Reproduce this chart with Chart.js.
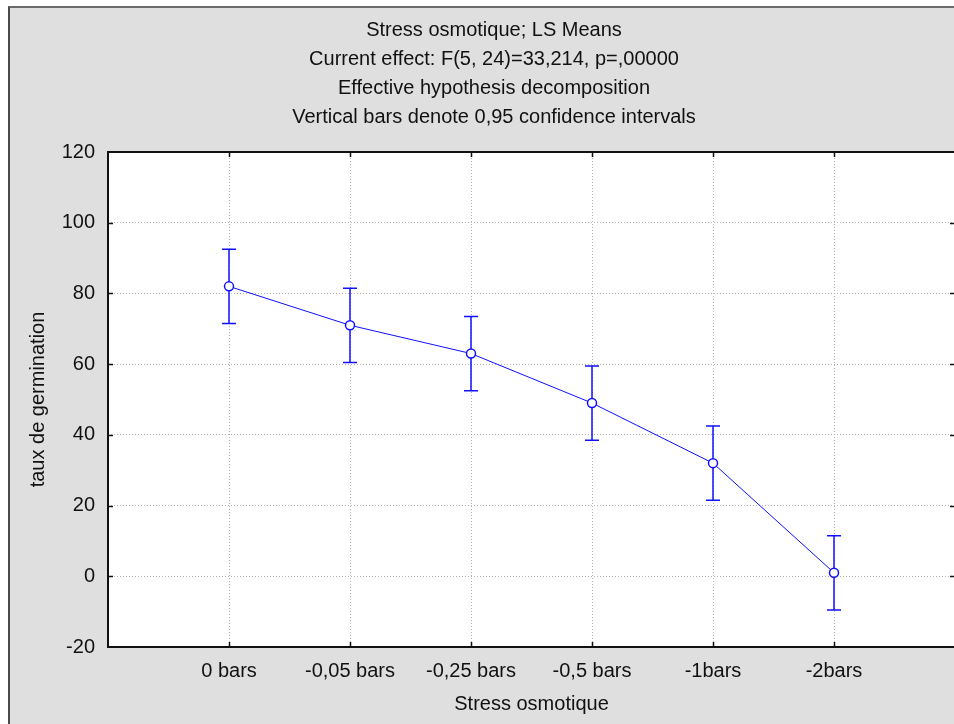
<!DOCTYPE html>
<html>
<head>
<meta charset="utf-8">
<script src="https://cdn.jsdelivr.net/npm/chart.js@4"></script>
<style>
  html, body { margin: 0; padding: 0; background: #ffffff; overflow: hidden; width: 954px; height: 724px; }
  #panel { position: absolute; left: 8px; top: 6px; width: 1200px; height: 1000px; background: #dfdfdf;
           border-left: 2px solid #4a4a4a; border-top: 2px solid #6a6a6a; }
  #c { position: absolute; left: 0; top: 0; }
</style>
</head>
<body>
<div id="panel"></div>
<canvas id="c" width="988" height="724" style="width:988px;height:724px"></canvas>
<script>
const titleLines = [
  'Stress osmotique; LS Means',
  'Current effect: F(5, 24)=33,214, p=,00000',
  'Effective hypothesis decomposition',
  'Vertical bars denote 0,95 confidence intervals'
];
const categories = ['0 bars', '-0,05 bars', '-0,25 bars', '-0,5 bars', '-1bars', '-2bars'];
const means   = [82, 71, 63, 49, 32, 1];
const ciUpper = [92.5, 81.5, 73.5, 59.5, 42.5, 11.5];
const ciLower = [71.5, 60.5, 52.5, 38.5, 21.5, -9.5];
const yTickValues = [-20, 0, 20, 40, 60, 80, 100, 120];
const xTitle = 'Stress osmotique';
const yTitle = 'taux de germination';

const FONT = '"Liberation Sans", Arial, sans-serif';
const BLUE = '#1010ff';

const plotBg = {
  id: 'plotBg',
  beforeDraw(chart) {
    const ctx = chart.ctx, a = chart.chartArea;
    ctx.save();
    ctx.fillStyle = '#ffffff';
    ctx.fillRect(a.left, a.top, a.right - a.left, a.bottom - a.top);
    ctx.restore();
  }
};

const errorBars = {
  id: 'errorBars',
  beforeDatasetsDraw(chart) {
    const ctx = chart.ctx, xs = chart.scales.x, ys = chart.scales.y;
    ctx.save();
    ctx.strokeStyle = BLUE;
    ctx.lineWidth = 1.5;
    for (let i = 0; i < means.length; i++) {
      const x = xs.getPixelForValue(i);
      const yt = ys.getPixelForValue(ciUpper[i]);
      const yb = ys.getPixelForValue(ciLower[i]);
      ctx.beginPath();
      ctx.moveTo(x, yt); ctx.lineTo(x, yb);
      ctx.moveTo(x - 7, yt); ctx.lineTo(x + 7, yt);
      ctx.moveTo(x - 7, yb); ctx.lineTo(x + 7, yb);
      ctx.stroke();
    }
    ctx.restore();
  }
};

const frame = {
  id: 'frame',
  afterDraw(chart) {
    const ctx = chart.ctx, a = chart.chartArea, xs = chart.scales.x, ys = chart.scales.y;
    ctx.save();
    ctx.strokeStyle = '#111';
    ctx.lineWidth = 2;
    ctx.strokeRect(a.left, a.top, a.right - a.left, a.bottom - a.top);
    ctx.lineWidth = 1.5;
    ctx.beginPath();
    for (let i = 0; i < categories.length; i++) {
      const x = Math.round(xs.getPixelForValue(i)) + 0.5;
      ctx.moveTo(x, a.top); ctx.lineTo(x, a.top + 5);
      ctx.moveTo(x, a.bottom); ctx.lineTo(x, a.bottom - 5);
    }
    yTickValues.forEach(v => {
      if (v === yTickValues[0] || v === yTickValues[yTickValues.length - 1]) return;
      const y = Math.round(ys.getPixelForValue(v)) + 0.5;
      ctx.moveTo(a.left, y); ctx.lineTo(a.left + 5, y);
      ctx.moveTo(a.right, y); ctx.lineTo(a.right - 5, y);
    });
    ctx.stroke();
    ctx.restore();
  }
};

new Chart(document.getElementById('c'), {
  type: 'line',
  data: {
    datasets: [{
      data: means.map((m, i) => ({ x: i, y: m })),
      borderColor: BLUE,
      borderWidth: 1,
      pointRadius: 4.5,
      pointBorderWidth: 1.5,
      pointBackgroundColor: '#ffffff',
      pointBorderColor: BLUE,
      tension: 0
    }]
  },
  options: {
    responsive: false,
    animation: false,
    devicePixelRatio: 1,
    layout: { padding: { left: 0, right: 0, top: 0, bottom: 0 } },
    plugins: {
      legend: { display: false },
      tooltip: { enabled: false },
      title: {
        display: true,
        text: titleLines,
        color: '#111',
        font: { family: FONT, size: 20, weight: 'normal', lineHeight: '29px' },
        padding: { top: 16, bottom: 20 }
      }
    },
    scales: {
      x: {
        type: 'linear',
        min: -1, max: 6,
        afterFit(s) { s.height = 77; },
        afterBuildTicks(s) { s.ticks = [-1, 0, 1, 2, 3, 4, 5, 6].map(v => ({ value: v })); },
        ticks: {
          autoSkip: false,
          maxRotation: 0,
          padding: 12,
          color: '#111',
          font: { family: FONT, size: 20 },
          callback: (v) => (v >= 0 && v < categories.length) ? categories[v] : ''
        },
        grid: {
          drawTicks: false,
          color: (c) => (c.tick && c.tick.value >= 0 && c.tick.value < categories.length) ? '#b4b4b4' : 'rgba(0,0,0,0)',
          lineWidth: 1
        },
        border: { display: false, dash: [1, 2] },
        title: {
          display: true, text: xTitle, color: '#111',
          font: { family: FONT, size: 20 },
          padding: { top: 8, bottom: 8 }
        }
      },
      y: {
        min: -20, max: 120,
        afterFit(s) { s.width = 108; },
        afterBuildTicks(s) { s.ticks = yTickValues.map(v => ({ value: v })); },
        ticks: {
          padding: 13,
          color: '#111',
          font: { family: FONT, size: 20 }
        },
        grid: {
          drawTicks: false,
          color: (c) => (c.tick && (c.tick.value === -20 || c.tick.value === 120)) ? 'rgba(0,0,0,0)' : '#b4b4b4',
          lineWidth: 1
        },
        border: { display: false, dash: [1, 2] },
        title: {
          display: true, text: yTitle, color: '#111',
          font: { family: FONT, size: 20 },
          padding: { top: 26, bottom: 8 }
        }
      },
      yRight: {
        position: 'right',
        min: -20, max: 120,
        afterFit(s) { s.width = 33; },
        ticks: { display: false },
        grid: { display: false, drawTicks: false },
        border: { display: false }
      }
    }
  },
  plugins: [plotBg, errorBars, frame]
});
</script>
</body>
</html>
